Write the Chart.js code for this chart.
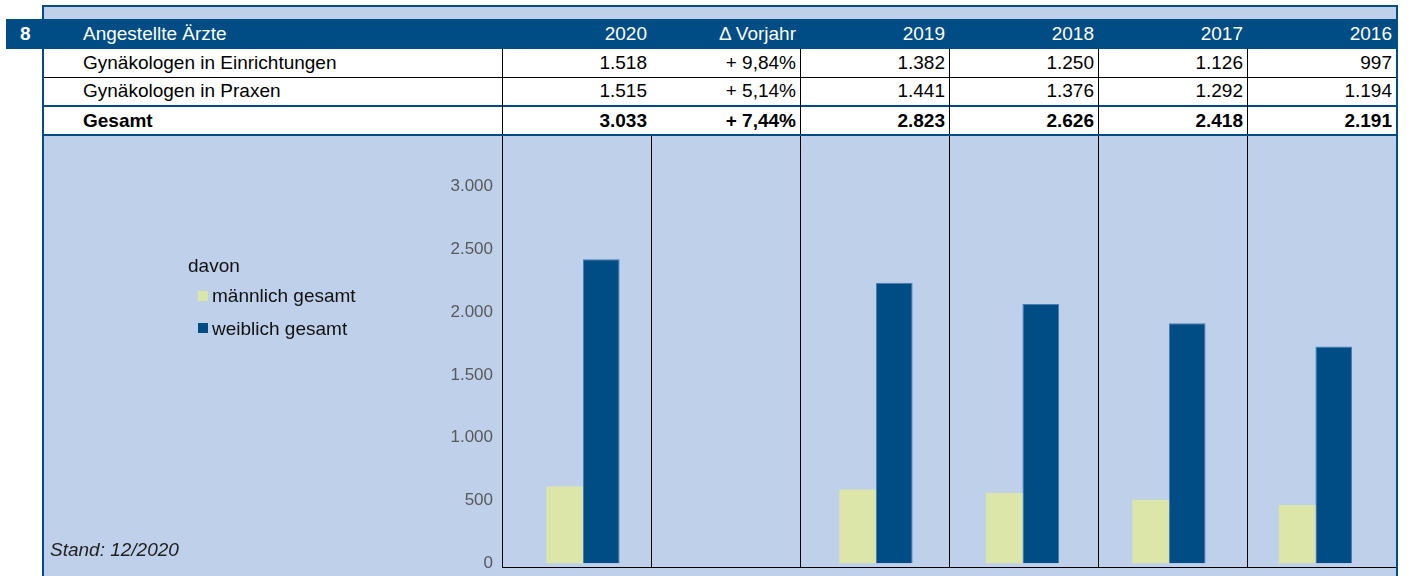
<!DOCTYPE html>
<html lang="de">
<head>
<meta charset="utf-8">
<title>Angestellte Ärzte</title>
<script src="https://cdn.jsdelivr.net/npm/chart.js@4/dist/chart.umd.min.js"></script>
<style>
    body { margin: 0; background: #fff; font-family: "Liberation Sans", Arial, sans-serif; }
    #page { position: relative; width: 1411px; height: 576px; overflow: hidden; }
    .box { position: absolute; }
    .dark { background: #004D85; }
    .light { background: #BED0EA; }
    .cell { position: absolute; white-space: nowrap; font-size: 19px; color: #000; }
    .num { text-align: right; }
    .head { color: #fff; }
    .bold { font-weight: bold; }
    #chartWrap { position: absolute; left: 44px; top: 136px; width: 1352px; height: 440px; z-index: 1; }
    .overlay { z-index: 3; }
    .legendText { position: absolute; font-size: 19px; color: #111; white-space: nowrap; line-height: 22px; z-index: 3; }
    .swatch { position: absolute; width: 10px; height: 10px; z-index: 3; }
</style>
</head>
<body>
<div id="page">
    <!-- Rahmen und Hintergründe -->
    <div class="box dark" style="left:42px; top:5px; width:1356px; height:2px;"></div>
    <div class="box light" style="left:44px; top:7px; width:1352px; height:12px;"></div>
    <div class="box dark" style="left:6px; top:19px; width:1392px; height:30px;"></div>
    <div class="box light" style="left:44px; top:136px; width:1352px; height:440px;"></div>
    <div class="box dark overlay" style="left:42px; top:5px; width:2px; height:571px;"></div>
    <div class="box dark overlay" style="left:1396px; top:5px; width:2px; height:571px;"></div>

    <!-- Tabellenlinien -->
    <div class="box" style="left:44px; top:77px; width:1352px; height:1px; background:#000;"></div>
    <div class="box dark" style="left:44px; top:105px; width:1352px; height:2px;"></div>
    <div class="box dark overlay" style="left:44px; top:134px; width:1352px; height:2px;"></div>

    <div id="chartWrap"><canvas id="genderChart"></canvas></div>

    <!-- Legende -->
    <div class="legendText" style="left:188px; top:255px;">davon</div>
    <div class="swatch" style="left:198px; top:291px; background:#DCE6A9;"></div>
    <div class="legendText" style="left:212px; top:285px;">männlich gesamt</div>
    <div class="swatch dark" style="left:198px; top:323px;"></div>
    <div class="legendText" style="left:212px; top:318px;">weiblich gesamt</div>
    <div class="legendText" style="left:50px; top:539px; font-style:italic; color:#222;">Stand: 12/2020</div>
</div>

<script>
// Kategorien (Spalten) und Werte
const categories = ['2020', 'Δ Vorjahr', '2019', '2018', '2017', '2016'];
const maleValues = [611, null, 588, 560, 505, 464];
const femaleValues = [2422, null, 2235, 2066, 1913, 1727];
const yTicks = [0, 500, 1000, 1500, 2000, 2500, 3000];

// Tabellenzeilen
const rowEinrichtungen = ['1.518', '+ 9,84%', '1.382', '1.250', '1.126', '997'];
const rowPraxen = ['1.515', '+ 5,14%', '1.441', '1.376', '1.292', '1.194'];
const rowGesamt = ['3.033', '+ 7,44%', '2.823', '2.626', '2.418', '2.191'];

const COL_LEFT = 502;
const COL_W = 149;

// Hilfsfunktion: Zahl mit Tausenderpunkt
function formatNumber(v) {
    return String(v).replace(/\B(?=(\d{3})+(?!\d))/g, '.');
}

function addCell(text, left, top, width, height, cls) {
    const div = document.createElement('div');
    div.className = 'cell ' + (cls || '');
    div.style.left = left + 'px';
    div.style.top = top + 'px';
    div.style.width = width + 'px';
    div.style.height = height + 'px';
    div.style.lineHeight = height + 'px';
    div.textContent = text;
    document.getElementById('page').appendChild(div);
}

function addVLine(x, top, height) {
    const div = document.createElement('div');
    div.className = 'box';
    div.style.cssText = `left:${x}px; top:${top}px; width:1px; height:${height}px; background:#000;`;
    document.getElementById('page').appendChild(div);
}

// Tabelle oberhalb des Diagramms aufbauen
function buildTable() {
    const rows = [
        { label: 'Angestellte Ärzte', values: categories, top: 19, h: 30, cls: 'head' },
        { label: 'Gynäkologen in Einrichtungen', values: rowEinrichtungen, top: 49, h: 28, cls: '' },
        { label: 'Gynäkologen in Praxen', values: rowPraxen, top: 77, h: 28, cls: '' },
        { label: 'Gesamt', values: rowGesamt, top: 107, h: 27, cls: 'bold' }
    ];
    addCell('8', 20, 19, 20, 30, 'head bold');
    rows.forEach(r => {
        addCell(r.label, 83, r.top, 400, r.h, r.cls);
        r.values.forEach((v, i) => {
            addCell(v, COL_LEFT + i * COL_W, r.top, COL_W - 4, r.h, r.cls + ' num');
        });
    });
    // senkrechte Linien (keine zwischen 2020 und Δ Vorjahr)
    [0, 2, 3, 4, 5].forEach(i => addVLine(COL_LEFT + i * COL_W, 49, 85));
}

function renderChart() {
    const ctx = document.getElementById('genderChart').getContext('2d');
    new Chart(ctx, {
        type: 'bar',
        data: {
            datasets: [{
                label: 'männlich gesamt',
                data: maleValues.map((v, i) => ({ x: i, y: v })),
                xAxisID: 'x',
                backgroundColor: '#DCE6A9',
                borderWidth: 0,
                categoryPercentage: 0.5,
                barPercentage: 1.0
            }, {
                label: 'weiblich gesamt',
                data: femaleValues.map((v, i) => ({ x: i, y: v })),
                xAxisID: 'x',
                backgroundColor: '#004D85',
                borderColor: '#4A7DAE',
                borderWidth: 1,
                categoryPercentage: 0.5,
                barPercentage: 1.0
            }]
        },
        options: {
            responsive: true,
            maintainAspectRatio: false,
            animation: false,
            layout: { padding: { left: 0, right: 0, top: 0, bottom: 9 } },
            plugins: {
                legend: { display: false },
                tooltip: {
                    callbacks: {
                        title: items => categories[items[0].raw.x],
                        label: c => c.dataset.label + ': ' + formatNumber(c.raw.y)
                    }
                }
            },
            scales: {
                x: {
                    type: 'linear',
                    display: false,
                    offset: false,
                    min: -0.553,
                    max: 5.55,
                    // ein Tick pro Kategorie, sonst werden die Balken zu schmal
                    afterBuildTicks: scale => {
                        scale.ticks = categories.map((c, i) => ({ value: i }));
                    }
                },
                xg: {
                    type: 'category',
                    labels: categories,
                    position: 'bottom',
                    offset: true,
                    grid: { offset: true, color: '#000', lineWidth: 1, drawTicks: false },
                    border: { color: '#000', width: 1 },
                    ticks: { display: false }
                },
                y: {
                    min: -30,
                    max: 3404,
                    grid: { display: false, drawTicks: false },
                    border: { color: '#000', width: 1 },
                    ticks: {
                        color: '#595959',
                        padding: 9,
                        font: { family: '"Liberation Sans", Arial, sans-serif', size: 17 },
                        callback: v => formatNumber(v)
                    },
                    afterBuildTicks: scale => {
                        scale.ticks = yTicks.map(v => ({ value: v }));
                    },
                    afterFit: scale => {
                        scale.width = 458;
                        scale.paddingTop = 0;
                        scale.paddingBottom = 0;
                    }
                }
            }
        }
    });
}

buildTable();
renderChart();
</script>
</body>
</html>
